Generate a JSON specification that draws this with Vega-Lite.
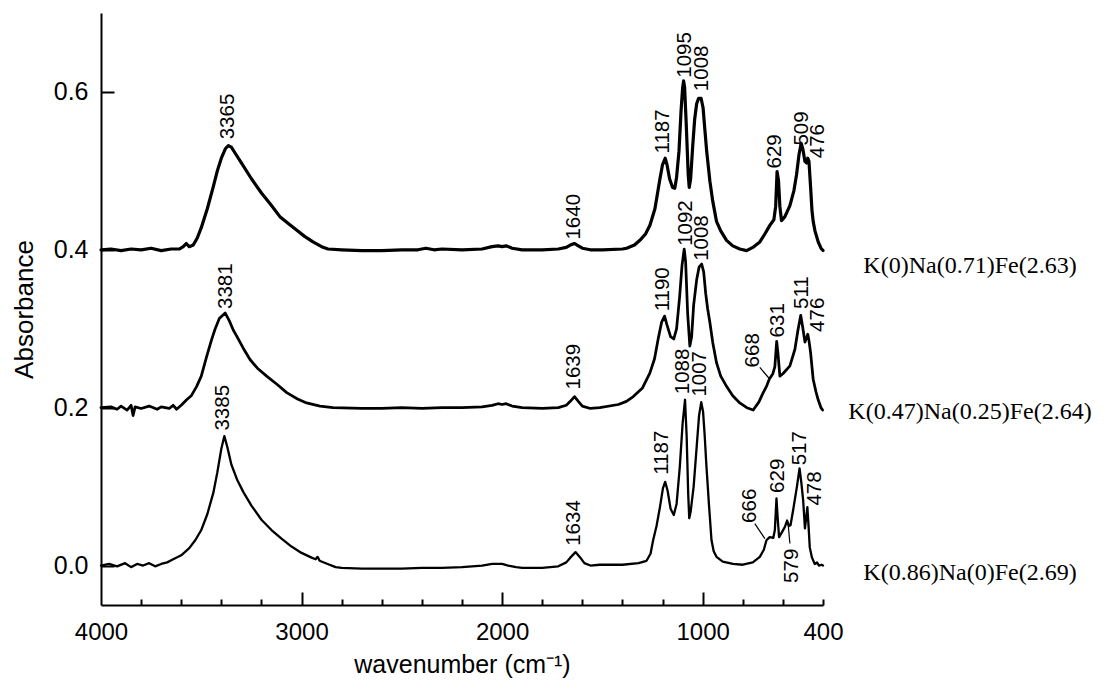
{
  "$schema": "https://vega.github.io/schema/vega-lite/v6.json",
  "width": 722,
  "height": 592,
  "autosize": {"type": "none"},
  "padding": {"left": 101, "top": 13, "right": 290, "bottom": 93},
  "background": "white",
  "config": {
    "view": {"stroke": null},
    "axis": {
      "domainColor": "black", "domainWidth": 2, "tickColor": "black", "tickWidth": 2,
      "labelColor": "black", "titleColor": "black", "labelFont": "Liberation Sans",
      "titleFont": "Liberation Sans", "grid": false, "titleFontWeight": "normal"
    }
  },
  "resolve": {"axis": {"x": "independent", "y": "independent"}},
  "datasets": {
    "spectra": [
      {"s":"A","w":4000,"a":0.400},{"s":"A","w":3950,"a":0.401},{"s":"A","w":3900,"a":0.399},{"s":"A","w":3850,"a":0.401},{"s":"A","w":3800,"a":0.400},{"s":"A","w":3750,"a":0.402},{"s":"A","w":3700,"a":0.399},{"s":"A","w":3650,"a":0.401},{"s":"A","w":3610,"a":0.401},{"s":"A","w":3590,"a":0.404},{"s":"A","w":3575,"a":0.408},{"s":"A","w":3560,"a":0.404},{"s":"A","w":3540,"a":0.406},{"s":"A","w":3520,"a":0.415},{"s":"A","w":3500,"a":0.428},{"s":"A","w":3470,"a":0.452},{"s":"A","w":3440,"a":0.480},{"s":"A","w":3420,"a":0.500},{"s":"A","w":3400,"a":0.516},{"s":"A","w":3380,"a":0.528},{"s":"A","w":3365,"a":0.532},{"s":"A","w":3350,"a":0.530},{"s":"A","w":3330,"a":0.522},{"s":"A","w":3300,"a":0.510},{"s":"A","w":3250,"a":0.490},{"s":"A","w":3200,"a":0.472},{"s":"A","w":3150,"a":0.456},{"s":"A","w":3108,"a":0.442},{"s":"A","w":3060,"a":0.432},{"s":"A","w":3025,"a":0.425},{"s":"A","w":2985,"a":0.417},{"s":"A","w":2943,"a":0.410},{"s":"A","w":2900,"a":0.404},{"s":"A","w":2868,"a":0.401},{"s":"A","w":2800,"a":0.400},{"s":"A","w":2700,"a":0.399},{"s":"A","w":2600,"a":0.399},{"s":"A","w":2500,"a":0.400},{"s":"A","w":2420,"a":0.400},{"s":"A","w":2380,"a":0.402},{"s":"A","w":2340,"a":0.400},{"s":"A","w":2300,"a":0.401},{"s":"A","w":2200,"a":0.400},{"s":"A","w":2100,"a":0.401},{"s":"A","w":2050,"a":0.404},{"s":"A","w":2020,"a":0.405},{"s":"A","w":2000,"a":0.404},{"s":"A","w":1980,"a":0.405},{"s":"A","w":1950,"a":0.402},{"s":"A","w":1900,"a":0.400},{"s":"A","w":1800,"a":0.400},{"s":"A","w":1720,"a":0.401},{"s":"A","w":1680,"a":0.403},{"s":"A","w":1660,"a":0.406},{"s":"A","w":1640,"a":0.408},{"s":"A","w":1620,"a":0.405},{"s":"A","w":1600,"a":0.402},{"s":"A","w":1560,"a":0.400},{"s":"A","w":1500,"a":0.400},{"s":"A","w":1400,"a":0.401},{"s":"A","w":1379,"a":0.402},{"s":"A","w":1340,"a":0.406},{"s":"A","w":1313,"a":0.412},{"s":"A","w":1285,"a":0.420},{"s":"A","w":1263,"a":0.431},{"s":"A","w":1238,"a":0.452},{"s":"A","w":1213,"a":0.490},{"s":"A","w":1200,"a":0.508},{"s":"A","w":1187,"a":0.516},{"s":"A","w":1178,"a":0.508},{"s":"A","w":1165,"a":0.490},{"s":"A","w":1150,"a":0.479},{"s":"A","w":1139,"a":0.478},{"s":"A","w":1130,"a":0.492},{"s":"A","w":1118,"a":0.525},{"s":"A","w":1108,"a":0.575},{"s":"A","w":1100,"a":0.605},{"s":"A","w":1095,"a":0.614},{"s":"A","w":1090,"a":0.606},{"s":"A","w":1082,"a":0.560},{"s":"A","w":1072,"a":0.495},{"s":"A","w":1067,"a":0.479},{"s":"A","w":1060,"a":0.490},{"s":"A","w":1050,"a":0.530},{"s":"A","w":1040,"a":0.565},{"s":"A","w":1030,"a":0.585},{"s":"A","w":1020,"a":0.592},{"s":"A","w":1008,"a":0.592},{"s":"A","w":998,"a":0.580},{"s":"A","w":990,"a":0.555},{"s":"A","w":980,"a":0.525},{"s":"A","w":964,"a":0.487},{"s":"A","w":950,"a":0.462},{"s":"A","w":931,"a":0.436},{"s":"A","w":910,"a":0.424},{"s":"A","w":881,"a":0.412},{"s":"A","w":850,"a":0.405},{"s":"A","w":815,"a":0.401},{"s":"A","w":781,"a":0.399},{"s":"A","w":750,"a":0.403},{"s":"A","w":715,"a":0.410},{"s":"A","w":690,"a":0.420},{"s":"A","w":665,"a":0.431},{"s":"A","w":645,"a":0.438},{"s":"A","w":636,"a":0.455},{"s":"A","w":629,"a":0.499},{"s":"A","w":622,"a":0.488},{"s":"A","w":615,"a":0.455},{"s":"A","w":607,"a":0.437},{"s":"A","w":590,"a":0.442},{"s":"A","w":565,"a":0.456},{"s":"A","w":545,"a":0.475},{"s":"A","w":532,"a":0.495},{"s":"A","w":520,"a":0.520},{"s":"A","w":509,"a":0.535},{"s":"A","w":500,"a":0.527},{"s":"A","w":490,"a":0.512},{"s":"A","w":482,"a":0.510},{"s":"A","w":476,"a":0.516},{"s":"A","w":470,"a":0.512},{"s":"A","w":462,"a":0.480},{"s":"A","w":455,"a":0.450},{"s":"A","w":449,"a":0.436},{"s":"A","w":440,"a":0.424},{"s":"A","w":424,"a":0.410},{"s":"A","w":410,"a":0.402},{"s":"A","w":400,"a":0.399},

      {"s":"B","w":4000,"a":0.200},{"s":"B","w":3950,"a":0.201},{"s":"B","w":3920,"a":0.198},{"s":"B","w":3900,"a":0.202},{"s":"B","w":3870,"a":0.197},{"s":"B","w":3850,"a":0.203},{"s":"B","w":3840,"a":0.190},{"s":"B","w":3830,"a":0.201},{"s":"B","w":3800,"a":0.199},{"s":"B","w":3760,"a":0.202},{"s":"B","w":3720,"a":0.198},{"s":"B","w":3700,"a":0.201},{"s":"B","w":3660,"a":0.199},{"s":"B","w":3640,"a":0.203},{"s":"B","w":3623,"a":0.198},{"s":"B","w":3600,"a":0.203},{"s":"B","w":3573,"a":0.210},{"s":"B","w":3550,"a":0.215},{"s":"B","w":3523,"a":0.227},{"s":"B","w":3500,"a":0.240},{"s":"B","w":3473,"a":0.265},{"s":"B","w":3450,"a":0.285},{"s":"B","w":3432,"a":0.299},{"s":"B","w":3410,"a":0.313},{"s":"B","w":3381,"a":0.320},{"s":"B","w":3360,"a":0.310},{"s":"B","w":3340,"a":0.298},{"s":"B","w":3324,"a":0.291},{"s":"B","w":3290,"a":0.275},{"s":"B","w":3257,"a":0.261},{"s":"B","w":3220,"a":0.250},{"s":"B","w":3174,"a":0.240},{"s":"B","w":3120,"a":0.229},{"s":"B","w":3074,"a":0.219},{"s":"B","w":3020,"a":0.211},{"s":"B","w":2975,"a":0.206},{"s":"B","w":2908,"a":0.202},{"s":"B","w":2843,"a":0.200},{"s":"B","w":2700,"a":0.199},{"s":"B","w":2600,"a":0.199},{"s":"B","w":2500,"a":0.200},{"s":"B","w":2400,"a":0.199},{"s":"B","w":2300,"a":0.200},{"s":"B","w":2200,"a":0.200},{"s":"B","w":2100,"a":0.201},{"s":"B","w":2050,"a":0.203},{"s":"B","w":2020,"a":0.205},{"s":"B","w":2000,"a":0.204},{"s":"B","w":1980,"a":0.205},{"s":"B","w":1950,"a":0.202},{"s":"B","w":1900,"a":0.200},{"s":"B","w":1800,"a":0.199},{"s":"B","w":1720,"a":0.200},{"s":"B","w":1680,"a":0.203},{"s":"B","w":1660,"a":0.208},{"s":"B","w":1639,"a":0.214},{"s":"B","w":1620,"a":0.208},{"s":"B","w":1600,"a":0.202},{"s":"B","w":1560,"a":0.199},{"s":"B","w":1513,"a":0.200},{"s":"B","w":1420,"a":0.204},{"s":"B","w":1380,"a":0.208},{"s":"B","w":1346,"a":0.214},{"s":"B","w":1300,"a":0.225},{"s":"B","w":1263,"a":0.244},{"s":"B","w":1240,"a":0.262},{"s":"B","w":1222,"a":0.287},{"s":"B","w":1205,"a":0.308},{"s":"B","w":1190,"a":0.316},{"s":"B","w":1178,"a":0.305},{"s":"B","w":1160,"a":0.290},{"s":"B","w":1144,"a":0.287},{"s":"B","w":1130,"a":0.300},{"s":"B","w":1115,"a":0.340},{"s":"B","w":1103,"a":0.380},{"s":"B","w":1092,"a":0.401},{"s":"B","w":1085,"a":0.385},{"s":"B","w":1075,"a":0.320},{"s":"B","w":1064,"a":0.278},{"s":"B","w":1055,"a":0.290},{"s":"B","w":1045,"a":0.330},{"s":"B","w":1030,"a":0.362},{"s":"B","w":1018,"a":0.378},{"s":"B","w":1005,"a":0.382},{"s":"B","w":995,"a":0.372},{"s":"B","w":985,"a":0.345},{"s":"B","w":975,"a":0.325},{"s":"B","w":964,"a":0.308},{"s":"B","w":950,"a":0.283},{"s":"B","w":931,"a":0.257},{"s":"B","w":910,"a":0.240},{"s":"B","w":881,"a":0.227},{"s":"B","w":850,"a":0.215},{"s":"B","w":815,"a":0.206},{"s":"B","w":780,"a":0.200},{"s":"B","w":748,"a":0.197},{"s":"B","w":720,"a":0.207},{"s":"B","w":698,"a":0.219},{"s":"B","w":680,"a":0.228},{"s":"B","w":668,"a":0.236},{"s":"B","w":650,"a":0.243},{"s":"B","w":640,"a":0.252},{"s":"B","w":631,"a":0.284},{"s":"B","w":625,"a":0.270},{"s":"B","w":615,"a":0.240},{"s":"B","w":600,"a":0.243},{"s":"B","w":565,"a":0.253},{"s":"B","w":540,"a":0.274},{"s":"B","w":525,"a":0.298},{"s":"B","w":511,"a":0.317},{"s":"B","w":500,"a":0.300},{"s":"B","w":490,"a":0.283},{"s":"B","w":480,"a":0.290},{"s":"B","w":476,"a":0.293},{"s":"B","w":470,"a":0.285},{"s":"B","w":462,"a":0.270},{"s":"B","w":449,"a":0.236},{"s":"B","w":435,"a":0.220},{"s":"B","w":424,"a":0.210},{"s":"B","w":410,"a":0.200},{"s":"B","w":402,"a":0.197},

      {"s":"C","w":4000,"a":0.000},{"s":"C","w":3960,"a":0.002},{"s":"C","w":3920,"a":-0.001},{"s":"C","w":3880,"a":0.003},{"s":"C","w":3850,"a":-0.002},{"s":"C","w":3820,"a":0.002},{"s":"C","w":3790,"a":0.000},{"s":"C","w":3760,"a":0.003},{"s":"C","w":3730,"a":-0.001},{"s":"C","w":3700,"a":0.002},{"s":"C","w":3670,"a":0.004},{"s":"C","w":3640,"a":0.008},{"s":"C","w":3600,"a":0.013},{"s":"C","w":3560,"a":0.022},{"s":"C","w":3530,"a":0.032},{"s":"C","w":3500,"a":0.045},{"s":"C","w":3470,"a":0.065},{"s":"C","w":3440,"a":0.092},{"s":"C","w":3420,"a":0.118},{"s":"C","w":3400,"a":0.148},{"s":"C","w":3385,"a":0.164},{"s":"C","w":3370,"a":0.150},{"s":"C","w":3350,"a":0.128},{"s":"C","w":3320,"a":0.108},{"s":"C","w":3290,"a":0.093},{"s":"C","w":3250,"a":0.076},{"s":"C","w":3200,"a":0.058},{"s":"C","w":3150,"a":0.045},{"s":"C","w":3100,"a":0.034},{"s":"C","w":3050,"a":0.024},{"s":"C","w":3000,"a":0.016},{"s":"C","w":2950,"a":0.010},{"s":"C","w":2930,"a":0.008},{"s":"C","w":2920,"a":0.011},{"s":"C","w":2910,"a":0.006},{"s":"C","w":2870,"a":0.002},{"s":"C","w":2830,"a":-0.002},{"s":"C","w":2800,"a":-0.003},{"s":"C","w":2700,"a":-0.004},{"s":"C","w":2600,"a":-0.004},{"s":"C","w":2500,"a":-0.004},{"s":"C","w":2400,"a":-0.003},{"s":"C","w":2300,"a":-0.003},{"s":"C","w":2200,"a":-0.002},{"s":"C","w":2150,"a":-0.001},{"s":"C","w":2100,"a":0.000},{"s":"C","w":2050,"a":0.002},{"s":"C","w":2000,"a":0.002},{"s":"C","w":1970,"a":0.000},{"s":"C","w":1930,"a":-0.002},{"s":"C","w":1900,"a":-0.003},{"s":"C","w":1800,"a":-0.003},{"s":"C","w":1720,"a":-0.001},{"s":"C","w":1680,"a":0.004},{"s":"C","w":1660,"a":0.010},{"s":"C","w":1634,"a":0.017},{"s":"C","w":1610,"a":0.010},{"s":"C","w":1590,"a":0.003},{"s":"C","w":1560,"a":0.000},{"s":"C","w":1513,"a":0.001},{"s":"C","w":1400,"a":0.001},{"s":"C","w":1320,"a":0.003},{"s":"C","w":1280,"a":0.006},{"s":"C","w":1260,"a":0.015},{"s":"C","w":1247,"a":0.032},{"s":"C","w":1230,"a":0.050},{"s":"C","w":1213,"a":0.074},{"s":"C","w":1198,"a":0.098},{"s":"C","w":1187,"a":0.106},{"s":"C","w":1175,"a":0.095},{"s":"C","w":1160,"a":0.072},{"s":"C","w":1144,"a":0.064},{"s":"C","w":1130,"a":0.078},{"s":"C","w":1114,"a":0.125},{"s":"C","w":1100,"a":0.180},{"s":"C","w":1088,"a":0.210},{"s":"C","w":1080,"a":0.165},{"s":"C","w":1072,"a":0.090},{"s":"C","w":1067,"a":0.060},{"s":"C","w":1060,"a":0.068},{"s":"C","w":1045,"a":0.100},{"s":"C","w":1030,"a":0.150},{"s":"C","w":1018,"a":0.190},{"s":"C","w":1007,"a":0.207},{"s":"C","w":998,"a":0.195},{"s":"C","w":990,"a":0.165},{"s":"C","w":981,"a":0.125},{"s":"C","w":968,"a":0.075},{"s":"C","w":956,"a":0.032},{"s":"C","w":945,"a":0.018},{"s":"C","w":931,"a":0.011},{"s":"C","w":900,"a":0.005},{"s":"C","w":849,"a":0.002},{"s":"C","w":800,"a":0.001},{"s":"C","w":750,"a":0.004},{"s":"C","w":715,"a":0.011},{"s":"C","w":695,"a":0.020},{"s":"C","w":682,"a":0.032},{"s":"C","w":666,"a":0.036},{"s":"C","w":648,"a":0.035},{"s":"C","w":640,"a":0.045},{"s":"C","w":632,"a":0.085},{"s":"C","w":626,"a":0.060},{"s":"C","w":619,"a":0.036},{"s":"C","w":605,"a":0.042},{"s":"C","w":590,"a":0.049},{"s":"C","w":579,"a":0.057},{"s":"C","w":570,"a":0.050},{"s":"C","w":562,"a":0.051},{"s":"C","w":549,"a":0.070},{"s":"C","w":530,"a":0.100},{"s":"C","w":517,"a":0.123},{"s":"C","w":508,"a":0.105},{"s":"C","w":499,"a":0.083},{"s":"C","w":490,"a":0.047},{"s":"C","w":484,"a":0.060},{"s":"C","w":478,"a":0.074},{"s":"C","w":472,"a":0.050},{"s":"C","w":466,"a":0.023},{"s":"C","w":455,"a":0.010},{"s":"C","w":441,"a":0.002},{"s":"C","w":430,"a":0.004},{"s":"C","w":420,"a":0.000},{"s":"C","w":407,"a":0.001},{"s":"C","w":400,"a":0.000}
    ],
    "peaks": [
      {"w":3365,"a":0.540,"t":"3365"},{"w":1642,"a":0.413,"t":"1640"},{"w":1200,"a":0.522,"t":"1187"},{"w":1089,"a":0.618,"t":"1095"},{"w":1003,"a":0.601,"t":"1008"},{"w":637,"a":0.503,"t":"629"},{"w":504,"a":0.532,"t":"509"},{"w":425,"a":0.516,"t":"476"},
      {"w":3377,"a":0.325,"t":"3381"},{"w":1642,"a":0.223,"t":"1639"},{"w":1198,"a":0.322,"t":"1190"},{"w":1084,"a":0.405,"t":"1092"},{"w":1003,"a":0.386,"t":"1008"},{"w":750,"a":0.251,"t":"668"},{"w":625,"a":0.289,"t":"631"},{"w":506,"a":0.325,"t":"511"},{"w":425,"a":0.296,"t":"476"},
      {"w":3390,"a":0.171,"t":"3385"},{"w":1642,"a":0.025,"t":"1634"},{"w":1205,"a":0.115,"t":"1187"},{"w":1098,"a":0.217,"t":"1088"},{"w":1014,"a":0.214,"t":"1007"},{"w":765,"a":0.054,"t":"666"},{"w":625,"a":0.092,"t":"629"},{"w":553,"a":-0.022,"t":"579"},{"w":515,"a":0.127,"t":"517"},{"w":440,"a":0.076,"t":"478"}
    ],
    "leaders": [
      {"w":715,"a":0.251,"w2":665,"a2":0.236},
      {"w":740,"a":0.053,"w2":690,"a2":0.034},
      {"w":565,"a":0.028,"w2":574,"a2":0.053}
    ],
    "samples": [
      {"a":0.380,"t":"K(0)Na(0.71)Fe(2.63)"},
      {"a":0.194,"t":"K(0.47)Na(0.25)Fe(2.64)"},
      {"a":-0.009,"t":"K(0.86)Na(0)Fe(2.69)"}
    ]
  },
  "layer": [
    {
      "data": {"name": "spectra"},
      "mark": {"type": "line", "color": "black", "strokeJoin": "round", "strokeCap": "round"},
      "encoding": {
        "x": {
          "field": "w", "type": "quantitative",
          "scale": {"domain": [4000, 400], "nice": false, "zero": false},
          "axis": {
            "orient": "bottom",
            "values": [4000, 3000, 2000, 1000, 400], "format": "d",
            "ticks": false, "tickSize": 0,
            "labelFontSize": 24, "labelPadding": 15, "labelFlush": false, "labelOverlap": false,
            "title": "wavenumber (cm⁻¹)", "titleFontSize": 25, "titlePadding": 8
          }
        },
        "y": {
          "field": "a", "type": "quantitative",
          "scale": {"domain": [-0.05, 0.70], "nice": false, "zero": false},
          "axis": {
            "orient": "left",
            "values": [0, 0.2, 0.4, 0.6], "format": ".1f",
            "ticks": false, "tickSize": 0,
            "labelFontSize": 25, "labelPadding": 13,
            "title": "Absorbance", "titleFontSize": 26, "titlePadding": 16
          }
        },
        "detail": {"field": "s"},
        "strokeWidth": {"field": "s", "type": "nominal", "scale": {"domain": ["A","B","C"], "range": [3.2, 2.3, 1.1]}, "legend": null}
      }
    },
    {
      "data": {"name": "leaders"},
      "mark": {"type": "rule", "color": "black", "strokeWidth": 1.2},
      "encoding": {
        "x": {
          "field": "w", "type": "quantitative",
          "axis": {"orient": "top", "offset": -592, "values": [3800,3600,3400,3200,2800,2600,2400,2200,1800,1600,1400,1200,800,600,400], "tickSize": 6, "labels": false, "domain": false, "title": null}
        },
        "y": {
          "field": "a", "type": "quantitative",
          "axis": {"orient": "right", "offset": -722, "values": [0, 0.2, 0.4, 0.6], "tickSize": 13, "labels": false, "domain": false, "title": null}
        },
        "x2": {"field": "w2"},
        "y2": {"field": "a2"}
      }
    },
    {
      "data": {"name": "peaks"},
      "mark": {"type": "text", "angle": 270, "align": "left", "baseline": "middle", "font": "Liberation Sans", "fontSize": 20.5, "color": "black"},
      "encoding": {
        "x": {
          "field": "w", "type": "quantitative",
          "axis": {"orient": "top", "offset": -592, "values": [3000, 2000, 1000], "tickSize": 13, "labels": false, "domain": false, "title": null}
        },
        "y": {"field": "a", "type": "quantitative", "axis": null},
        "text": {"field": "t"}
      }
    },
    {
      "data": {"name": "samples"},
      "mark": {"type": "text", "align": "center", "baseline": "middle", "font": "Liberation Serif", "fontSize": 24, "color": "black", "dx": 147},
      "encoding": {
        "x": {"datum": 400, "type": "quantitative", "axis": null},
        "y": {"field": "a", "type": "quantitative", "axis": null},
        "text": {"field": "t"}
      }
    }
  ]
}
